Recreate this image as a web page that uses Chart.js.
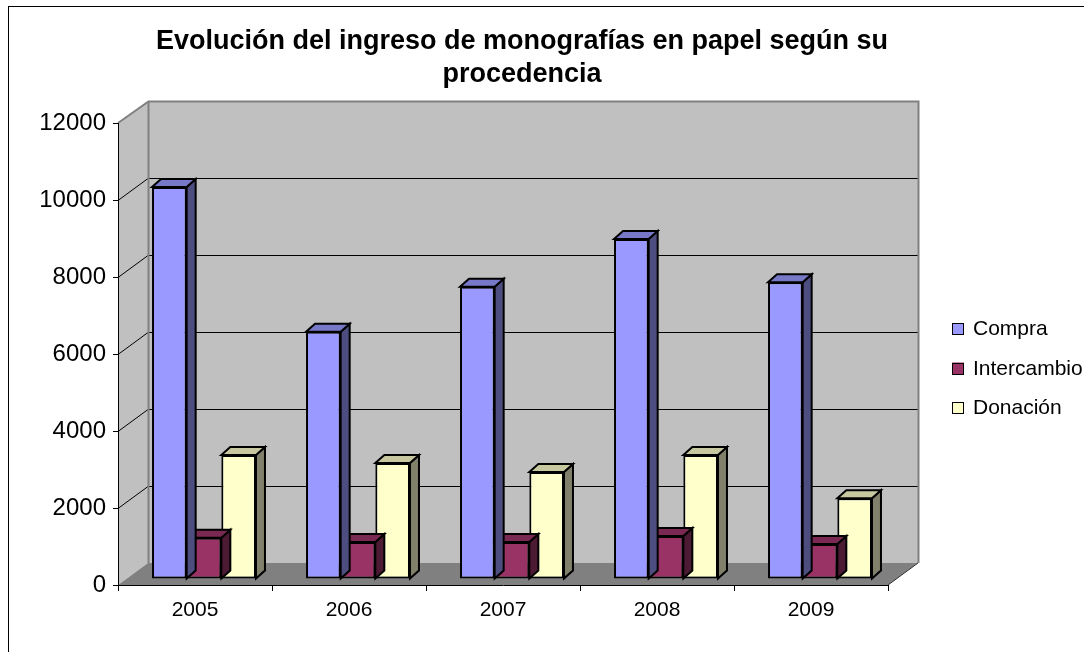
<!DOCTYPE html>
<html>
<head>
<meta charset="utf-8">
<script src="https://cdn.jsdelivr.net/npm/chart.js@4/dist/chart.umd.min.js"></script>
<style>
  html, body { margin: 0; padding: 0; background: #fff; }
  #graphCanvas { display: block; }
</style>
</head>
<body>
<canvas id="graphCanvas" width="1084" height="652"></canvas>
<script>
// Data
const years = ['2005', '2006', '2007', '2008', '2009'];
const compra = [10180, 6420, 7590, 8830, 7710];
const intercambio = [1070, 960, 960, 1120, 910];
const donacion = [3220, 3010, 2780, 3220, 2100];
const yTicks = [0, 2000, 4000, 6000, 8000, 10000, 12000];
const titleLines = ['Evolución del ingreso de monografías en papel según su', 'procedencia'];

// Colours for front, top and side faces
const frontColors = ['#9999ff', '#993366', '#ffffcc'];
const topColors = ['#7878c8', '#7a2952', '#c8c8a0'];
const sideColors = ['#4d4d80', '#4d1a33', '#80806b'];

// 3D look
const WALL_DX = 30, WALL_DY = -22;   // depth of the walls
const BAR_DX = 9, BAR_DY = -6;       // front of bars pushed into depth
const BAR_DEPTH_X = 9, BAR_DEPTH_Y = -8;

const FONT = '"Liberation Sans", Arial, sans-serif';
Chart.defaults.font.family = FONT;
Chart.defaults.color = '#000';

function poly(ctx, pts, fill, stroke, lw) {
  ctx.beginPath();
  ctx.moveTo(pts[0][0], pts[0][1]);
  for (let i = 1; i < pts.length; i++) ctx.lineTo(pts[i][0], pts[i][1]);
  ctx.closePath();
  if (fill) { ctx.fillStyle = fill; ctx.fill(); }
  if (stroke) { ctx.strokeStyle = stroke; ctx.lineWidth = lw || 1; ctx.stroke(); }
}

function line(ctx, pts, color, lw) {
  ctx.beginPath();
  ctx.moveTo(pts[0][0], pts[0][1]);
  for (let i = 1; i < pts.length; i++) ctx.lineTo(pts[i][0], pts[i][1]);
  ctx.strokeStyle = color;
  ctx.lineWidth = lw || 1;
  ctx.stroke();
}

const box3d = {
  id: 'box3d',
  beforeDraw(chart) {
    const { ctx, chartArea: a, scales: { y } } = chart;
    const L = a.left, R = a.right;
    const T = y.getPixelForValue(12000), B = y.getPixelForValue(0);
    ctx.save();
    ctx.fillStyle = '#fff';
    ctx.fillRect(0, 0, chart.width, chart.height);
    // outer frame
    ctx.strokeStyle = '#000';
    ctx.lineWidth = 1;
    ctx.strokeRect(8.5, 6.5, 1200, 1200);

    // walls and floor
    poly(ctx, [[L, T], [L + WALL_DX, T + WALL_DY], [L + WALL_DX, B + WALL_DY], [L, B]], '#c0c0c0');
    poly(ctx, [[L + WALL_DX, T + WALL_DY], [R + WALL_DX, T + WALL_DY], [R + WALL_DX, B + WALL_DY], [L + WALL_DX, B + WALL_DY]], '#c0c0c0');
    poly(ctx, [[L, B], [L + WALL_DX, B + WALL_DY], [R + WALL_DX, B + WALL_DY], [R, B]], '#808080');

    // gridlines on the walls
    yTicks.forEach(v => {
      if (v === 0 || v === 12000) return;
      const py = Math.round(y.getPixelForValue(v)) + 0.5;
      line(ctx, [[L, py], [L + WALL_DX, py + WALL_DY], [R + WALL_DX, py + WALL_DY]], '#000', 1);
    });

    // wall edges
    line(ctx, [[L, T], [L + WALL_DX + 0.5, T + WALL_DY + 0.5], [R + WALL_DX + 0.5, T + WALL_DY + 0.5], [R + WALL_DX + 0.5, B + WALL_DY]], '#808080', 2);
    line(ctx, [[L + WALL_DX + 0.5, T + WALL_DY], [L + WALL_DX + 0.5, B + WALL_DY]], '#808080', 2);
    line(ctx, [[R, B], [R + WALL_DX, B + WALL_DY]], '#333', 1);
    ctx.restore();
  },
  beforeDatasetDraw(chart, args) {
    const ctx = chart.ctx;
    const i = args.index;
    ctx.save();
    ctx.translate(BAR_DX, BAR_DY);
    ctx.lineJoin = 'miter';
    args.meta.data.forEach(bar => {
      const { x, y, base, width } = bar.getProps(['x', 'y', 'base', 'width'], true);
      const xl = x - width / 2, xr = x + width / 2;
      // side face
      poly(ctx, [[xr, y], [xr + BAR_DEPTH_X, y + BAR_DEPTH_Y], [xr + BAR_DEPTH_X, base + BAR_DEPTH_Y], [xr, base]], sideColors[i], '#000', 2);
      // top face
      poly(ctx, [[xl, y], [xl + BAR_DEPTH_X, y + BAR_DEPTH_Y], [xr + BAR_DEPTH_X, y + BAR_DEPTH_Y], [xr, y]], topColors[i], '#000', 2);
    });
  },
  afterDatasetDraw(chart) {
    chart.ctx.restore();
  },
  afterDraw(chart) {
    const ctx = chart.ctx;
    ctx.save();
    // title
    ctx.fillStyle = '#000';
    ctx.font = 'bold 27px ' + FONT;
    ctx.textAlign = 'center';
    ctx.textBaseline = 'alphabetic';
    ctx.fillText(titleLines[0], 522, 49);
    ctx.fillText(titleLines[1], 522, 82);

    // legend
    ctx.font = '21px ' + FONT;
    ctx.textAlign = 'left';
    chart.data.datasets.forEach((ds, i) => {
      const top = 323 + i * 39.5;
      ctx.fillStyle = ds.backgroundColor;
      ctx.fillRect(952, top, 12, 12);
      ctx.strokeStyle = '#000';
      ctx.lineWidth = 1;
      ctx.strokeRect(952.5, Math.round(top) + 0.5, 11, 11);
      ctx.fillStyle = '#000';
      ctx.fillText(ds.label, 973, top + 12);
    });
    ctx.restore();
  }
};

const ctx = document.getElementById('graphCanvas').getContext('2d');
const chart = new Chart(ctx, {
  type: 'bar',
  data: {
    labels: years,
    datasets: [
      { label: 'Compra', data: compra },
      { label: 'Intercambio', data: intercambio },
      { label: 'Donación', data: donacion }
    ].map((d, i) => Object.assign(d, {
      backgroundColor: frontColors[i],
      borderColor: '#000',
      borderWidth: 2,
      borderSkipped: false,
      categoryPercentage: 0.675,
      barPercentage: 1.0,
      clip: false
    }))
  },
  options: {
    responsive: false,
    devicePixelRatio: 1,
    animation: false,
    layout: { padding: { left: 0, top: 123, right: 196, bottom: 0 } },
    plugins: {
      legend: { display: false },
      title: { display: false },
      tooltip: { enabled: false }
    },
    scales: {
      x: {
        grid: { display: true, drawOnChartArea: false, drawTicks: true, tickLength: 6, color: '#000', offset: true },
        border: { display: true, color: '#000', width: 1 },
        ticks: { font: { size: 21 }, color: '#000', padding: 7 },
        afterFit: s => { s.height = 67; }
      },
      y: {
        min: 0,
        max: 12000,
        afterBuildTicks: s => { s.ticks = yTicks.map(v => ({ value: v })); },
        grid: { display: true, drawOnChartArea: false, drawTicks: true, tickLength: 5, color: '#000' },
        border: { display: true, color: '#000', width: 1 },
        ticks: { font: { size: 24 }, color: '#000', padding: 7, callback: v => String(v) },
        afterFit: s => { s.width = 118; }
      }
    }
  },
  plugins: [box3d]
});
</script>
</body>
</html>
